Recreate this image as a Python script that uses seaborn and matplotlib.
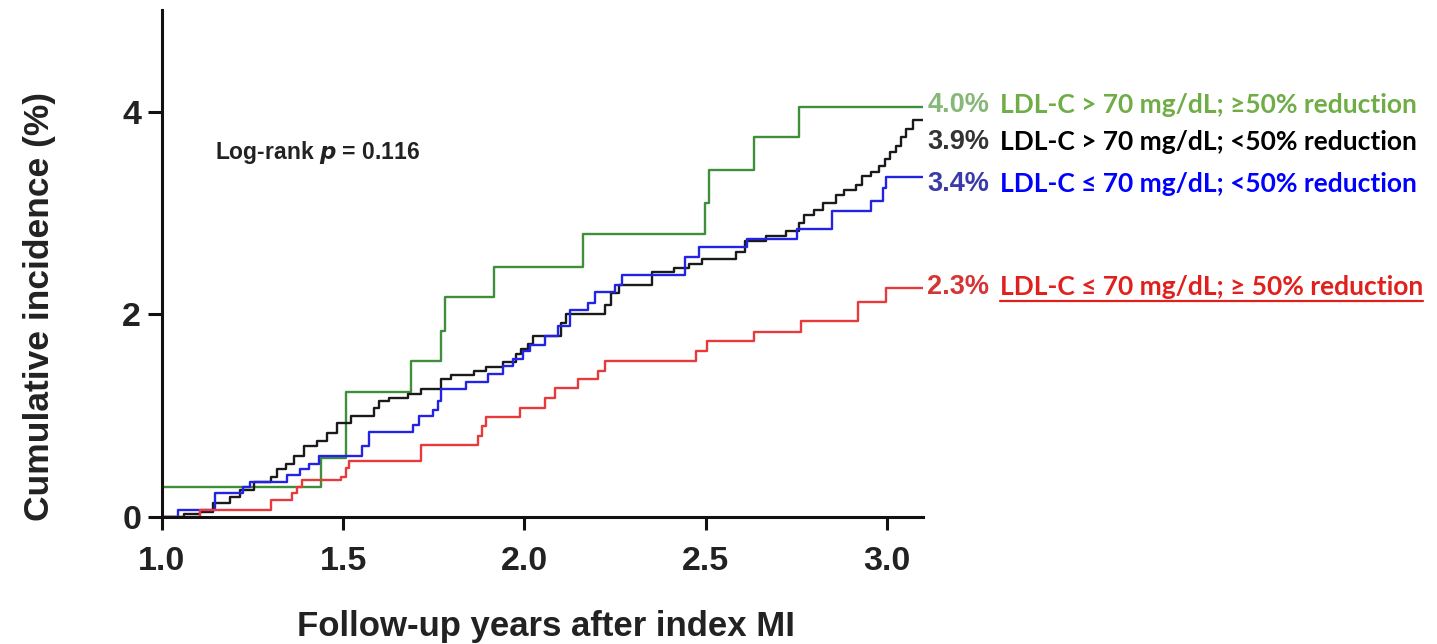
import pandas as pd
import matplotlib.pyplot as plt
import matplotlib.lines as mlines
import seaborn as sns

# step curves: follow-up time (years) and cumulative incidence (%)
green_t = [1.0, 1.44, 1.507, 1.687, 1.77, 1.78, 1.917, 2.163, 2.499, 2.509, 2.633, 2.758, 3.1]
green_v = [0.30, 0.58, 1.23, 1.54, 1.84, 2.17, 2.47, 2.79, 3.10, 3.42, 3.75, 4.05, 4.05]

black_t = [1.0, 1.06, 1.105, 1.142, 1.188, 1.216, 1.253, 1.30, 1.318, 1.341,
           1.364, 1.391, 1.429, 1.456, 1.484, 1.521, 1.585, 1.599, 1.627, 1.678,
           1.715, 1.77, 1.798, 1.862, 1.895, 1.941, 1.978, 1.992, 2.01, 2.024,
           2.102, 2.116, 2.223, 2.24, 2.26, 2.352, 2.412, 2.453, 2.49, 2.583,
           2.61, 2.666, 2.721, 2.758, 2.772, 2.80, 2.823, 2.86, 2.883, 2.915,
           2.933, 2.957, 2.98, 2.994, 3.008, 3.026, 3.04, 3.053, 3.072, 3.1]
black_v = [0.0, 0.03, 0.05, 0.14, 0.20, 0.27, 0.35, 0.40, 0.47, 0.52,
           0.60, 0.70, 0.75, 0.83, 0.93, 1.00, 1.08, 1.15, 1.18, 1.21,
           1.26, 1.36, 1.40, 1.44, 1.48, 1.53, 1.61, 1.66, 1.71, 1.79,
           1.92, 2.00, 2.09, 2.21, 2.29, 2.42, 2.46, 2.50, 2.55, 2.62,
           2.72, 2.77, 2.82, 2.90, 2.98, 3.03, 3.10, 3.18, 3.23, 3.28,
           3.37, 3.40, 3.46, 3.53, 3.60, 3.66, 3.75, 3.83, 3.92, 3.92]

blue_t = [1.0, 1.045, 1.147, 1.225, 1.244, 1.345, 1.382, 1.405, 1.432, 1.553,
          1.571, 1.692, 1.71, 1.747, 1.761, 1.77, 1.839, 1.90, 1.941, 1.969,
          1.996, 2.015, 2.056, 2.093, 2.126, 2.176, 2.195, 2.25, 2.269, 2.444,
          2.481, 2.615, 2.753, 2.85, 2.957, 2.989, 2.998, 3.1]
blue_v = [0.0, 0.07, 0.235, 0.30, 0.35, 0.42, 0.47, 0.52, 0.60, 0.70,
          0.84, 0.91, 1.00, 1.06, 1.15, 1.26, 1.33, 1.41, 1.49, 1.56,
          1.64, 1.70, 1.79, 1.89, 2.04, 2.11, 2.22, 2.29, 2.39, 2.57,
          2.66, 2.74, 2.84, 3.02, 3.12, 3.25, 3.36, 3.36]

red_t = [1.0, 1.105, 1.30, 1.36, 1.373, 1.387, 1.493, 1.507, 1.516, 1.715,
         1.872, 1.883, 1.895, 1.987, 2.056, 2.084, 2.149, 2.204, 2.223, 2.474,
         2.504, 2.633, 2.763, 2.92, 2.998, 3.1]
red_v = [0.0, 0.07, 0.17, 0.235, 0.30, 0.37, 0.40, 0.48, 0.55, 0.716,
         0.80, 0.90, 0.99, 1.08, 1.18, 1.27, 1.36, 1.44, 1.54, 1.64,
         1.74, 1.83, 1.93, 2.12, 2.26, 2.26]

groups = ["LDL-C > 70 mg/dL; \u226550% reduction",
          "LDL-C > 70 mg/dL; <50% reduction",
          "LDL-C \u2264 70 mg/dL; <50% reduction",
          "LDL-C \u2264 70 mg/dL; \u2265 50% reduction"]
final_pct = ["4.0%", "3.9%", "3.4%", "2.3%"]

line_colors = ["#3f8f3a", "#1a1a1a", "#2323e6", "#e83a3a"]
pct_colors = ["#86b878", "#333333", "#3a3aa8", "#d53535"]
text_colors = ["#70ad47", "#000000", "#0000ff", "#e0201c"]

df = pd.concat([
    pd.DataFrame({"t": t, "inc": v, "group": g})
    for t, v, g in zip([green_t, black_t, blue_t, red_t],
                       [green_v, black_v, blue_v, red_v], groups)
])

sns.set_style("ticks")
plt.rcParams["font.family"] = ["Liberation Sans", "DejaVu Sans"]

fig = plt.figure(figsize=(14.37, 6.44), dpi=100)
ax = fig.add_axes([0.1127, 0.197, 0.5296, 0.787])

sns.lineplot(data=df, x="t", y="inc", hue="group", palette=dict(zip(groups, line_colors)),
             estimator=None, sort=False, drawstyle="steps-post", linewidth=1.7,
             legend=False, ax=ax)

ax.set_xlim(1.0, 3.1)
ax.set_ylim(0, 5.0)
ax.set_xticks([1.0, 1.5, 2.0, 2.5, 3.0])
ax.set_xticklabels(["1.0", "1.5", "2.0", "2.5", "3.0"])
ax.set_yticks([0, 2, 4])
sns.despine(ax=ax)
for s in ["left", "bottom"]:
    ax.spines[s].set_linewidth(2.2)
    ax.spines[s].set_color("#111111")
ax.tick_params(axis="both", width=2.2, length=9, color="#111111",
               labelsize=24.5, labelcolor="#222222")
ax.tick_params(axis="x", pad=12)
ax.tick_params(axis="y", length=10, pad=5)
for lab in ax.get_xticklabels() + ax.get_yticklabels():
    lab.set_fontweight("bold")

ax.set_xlabel("Follow-up years after index MI", fontsize=25, fontweight="bold", color="#222222")
ax.set_ylabel("Cumulative incidence (%)", fontsize=25.5, fontweight="bold", color="#222222")
ax.xaxis.set_label_coords(0.505, -0.183)
ax.yaxis.set_label_coords(-0.139, 0.416)

ax.text(1.147, 3.6, "Log-rank $\\bfit{p}$ = 0.116", fontsize=16.5, fontweight="bold",
        color="#222222", va="center")

label_y = [4.07, 3.70, 3.29, 2.27]
texts = []
for pct, g, y, pc, tc in zip(final_pct, groups, label_y, pct_colors, text_colors):
    ax.text(3.112, y, pct, fontsize=19.5, fontweight="bold", color=pc,
            va="center", ha="left", clip_on=False)
    t = ax.text(3.312, y, g, fontsize=19, fontweight="bold", color=tc,
                va="center", ha="left", clip_on=False, family=["Lato", "DejaVu Sans"])
    texts.append(t)

# underline the last group label
fig.canvas.draw()
bb = texts[-1].get_window_extent().transformed(fig.transFigure.inverted())
fig.add_artist(mlines.Line2D([bb.x0, bb.x1], [bb.y0 - 0.003, bb.y0 - 0.003],
                             color=text_colors[-1], linewidth=1.6))

fig.savefig("out.png", dpi=100)
